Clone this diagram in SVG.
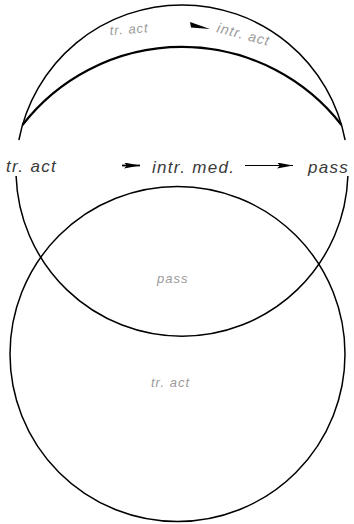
<svg xmlns="http://www.w3.org/2000/svg" width="354" height="524" viewBox="0 0 354 524">
<style>
.c{fill:none;stroke:#000;stroke-width:1.5}
.t{font-family:"Liberation Sans",Arial,sans-serif;font-style:italic;font-size:17px;fill:#3a3a3a;letter-spacing:1.3px}
.f{font-family:"Liberation Sans",Arial,sans-serif;font-style:italic;font-size:13px;fill:#9a9a9a;letter-spacing:1px}
</style>
<defs>
<marker id="ah" viewBox="0 0 16 6" refX="16" refY="3" markerWidth="16" markerHeight="6" markerUnits="userSpaceOnUse" orient="auto">
<path d="M0,0 L16,3 L0,6 L3,3 Z" fill="#000"/>
</marker>
</defs>
<rect width="354" height="524" fill="#fff"/>
<g id="upper-circle">
<path class="c" d="M16.1,176 A166,166 0 0 0 347.9,176"/>
<path class="c" d="M345.1,140 A166,166 0 0 0 18.9,140"/>
<path class="c" style="stroke-width:2.2" d="M22.5,125 A202,202 0 0 1 341.5,125"/>
</g>
<g id="lower-circle">
<circle class="c" cx="177.5" cy="354" r="167.5"/>
</g>
<g id="labels">
<text class="t" x="6" y="172">tr. act</text>
<text class="t" x="152" y="173">intr. med.</text>
<text class="t" x="308" y="173">pass</text>
<text class="f" x="110" y="35" transform="rotate(-4 110 35)">tr. act</text>
<text class="f" x="216" y="32" style="font-size:14px" transform="rotate(15 216 32)">intr. act</text>
<text class="f" x="157" y="283">pass</text>
<text class="f" x="151" y="387">tr. act</text>
</g>
<g id="connectors">
<path d="M190,22 L210,29 L191,27.5 Z" fill="#000"/>
<path d="M122,165.5 L140,165.5" stroke="#000" stroke-width="1.8" marker-end="url(#ah)"/>
<path d="M245,165.5 L293,165.5" stroke="#000" stroke-width="1" marker-end="url(#ah)"/>
</g>
</svg>
